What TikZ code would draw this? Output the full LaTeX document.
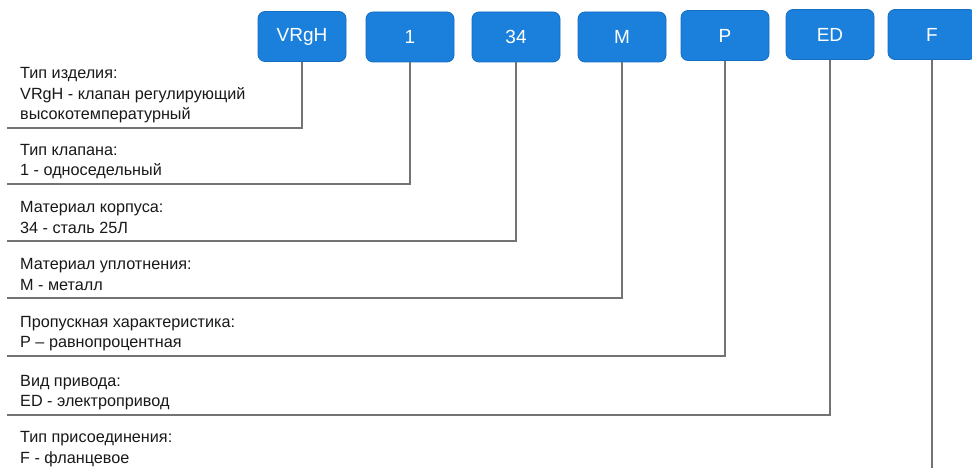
\documentclass[tikz,border=0pt]{standalone}
\usepackage{fontspec}
\setmainfont{Liberation Sans}
\definecolor{boxblue}{RGB}{26,128,220}
\definecolor{boxedge}{RGB}{20,110,195}
\definecolor{linegray}{RGB}{115,115,115}
\definecolor{txt}{RGB}{25,25,25}
\begin{document}
\begin{tikzpicture}[x=1pt,y=-1pt,
  codebox/.style={draw=boxedge, line width=0.8pt, fill=boxblue, rounded corners=7pt,
    minimum width=88pt, minimum height=50pt, text=white, inner sep=0pt,
    font=\fontsize{19}{19}\selectfont},
  desc/.style={anchor=base west, text=txt, inner sep=0pt, align=left,
    font=\fontsize{16.2}{20.5}\selectfont},
  conn/.style={draw=linegray, line width=1.4pt}]
\useasboundingbox (0,0) rectangle (972,468);
\fill[white] (0,0) rectangle (972,468);

\node[codebox] (b1) at (302,36.5) {VRgH};
\node[codebox] (b2) at (410,37) {1};
\node[codebox] (b3) at (516,37) {34};
\node[codebox] (b4) at (622,37) {M};
\node[codebox] (b5) at (725,35.5) {P};
\node[codebox] (b6) at (830,34.5) {ED};
\node[codebox] (b7) at (932,34.5) {F};

\node[desc] (t1) at (20,120) {Тип изделия:\\VRgH - клапан регулирующий\\высокотемпературный};
\node[desc] (t2) at (20,175.5) {Тип клапана:\\1 - односедельный};
\node[desc] (t3) at (20,233) {Материал корпуса:\\34 - сталь 25Л};
\node[desc] (t4) at (20,290) {Материал уплотнения:\\M - металл};
\node[desc] (t5) at (20,347.5) {Пропускная характеристика:\\P – равнопроцентная};
\node[desc] (t6) at (20,406.5) {Вид привода:\\ED - электропривод};
\node[desc] (t7) at (20,463) {Тип присоединения:\\F - фланцевое};

\coordinate (h1) at (7,128);
\coordinate (h2) at (7,184);
\coordinate (h3) at (7,241);
\coordinate (h4) at (7,298);
\coordinate (h5) at (7,356);
\coordinate (h6) at (7,415);
\coordinate (h7) at (932,470);

\draw[conn] (b1.south) |- (h1);
\draw[conn] (b2.south) |- (h2);
\draw[conn] (b3.south) |- (h3);
\draw[conn] (b4.south) |- (h4);
\draw[conn] (b5.south) |- (h5);
\draw[conn] (b6.south) |- (h6);
\draw[conn] (b7.south) -- (h7);
\end{tikzpicture}
\end{document}
